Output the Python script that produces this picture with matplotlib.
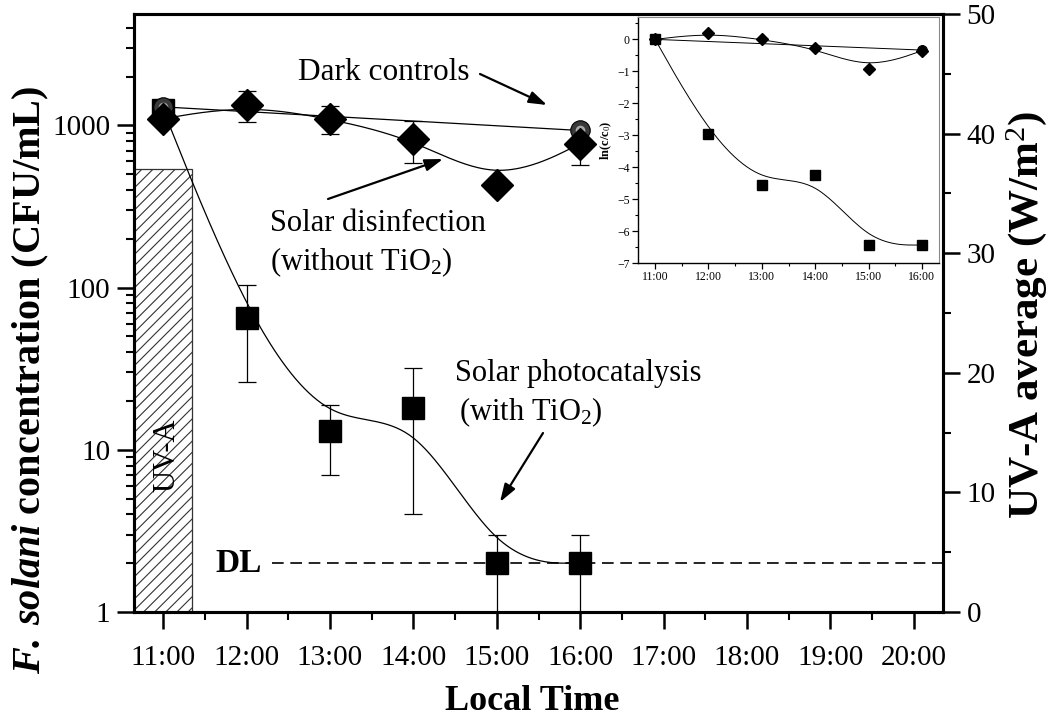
import numpy as np
import matplotlib
matplotlib.use('Agg')
import matplotlib.pyplot as plt
from matplotlib.ticker import FixedLocator, MultipleLocator, LogLocator, NullFormatter, FuncFormatter

plt.rcParams.update({
    'font.family': 'Liberation Serif',
    'mathtext.fontset': 'custom',
    'mathtext.rm': 'Liberation Serif',
    'mathtext.it': 'Liberation Serif:italic',
    'mathtext.bf': 'Liberation Serif:bold',
    'mathtext.bfit': 'Liberation Serif:bold:italic',
    'hatch.linewidth': 0.8,
})

# --- data ---
hours = [11, 12, 13, 14, 15, 16]
photocat = [1250, 65, 13, 18, 2, 2]            # with TiO2 (CFU/mL)
photocat_err = [np.nan, 39, 6, 14, 1, 1]
sodis = [1100, 1340, 1100, 830, 430, 770]      # without TiO2
sodis_err = [np.nan, 290, 220, 240, np.nan, 200]
dark_hours = [11, 16]
dark = [1300, 930]                             # dark controls
uva_hours = [11]
uva = [37]                                     # UV-A average (W/m2)
detection_limit = 2
hour_ticks = list(range(11, 21))
inset_ticks = list(range(11, 17))

W, H = 1050, 722


def px(x, y):
    """pixel position (top-left origin) -> figure fraction"""
    return (x / W, 1 - y / H)


def bspline(xs, ys, n=40):
    """uniform cubic B-spline with the data as control points, ends clamped"""
    xs, ys = np.asarray(xs, float), np.asarray(ys, float)
    cx = np.r_[xs[0], xs[0], xs, xs[-1], xs[-1]]
    cy = np.r_[ys[0], ys[0], ys, ys[-1], ys[-1]]
    t = np.linspace(0, 1, n)[:, None]
    B = np.hstack([(1 - t)**3, 3*t**3 - 6*t**2 + 4,
                   -3*t**3 + 3*t**2 + 3*t + 1, t**3]) / 6
    outx = np.concatenate([B @ cx[i:i+4] for i in range(len(cx) - 3)])
    outy = np.concatenate([B @ cy[i:i+4] for i in range(len(cy) - 3)])
    return outx, outy


def draw_sphere(a, x, y, ms, z=5):
    a.plot(x, y, 'o', ms=ms, mfc='#3a3a3a', mec='k', mew=0.8, zorder=z)
    a.plot(x, y, 'o', ms=ms*0.5, mfc='#a8a8a8', mec='none', zorder=z)
    a.plot(x, y, 'o', ms=ms*0.22, mfc='#f2f2f2', mec='none', zorder=z)


fig = plt.figure(figsize=(10.5, 7.22), dpi=100)
ax = fig.add_axes([134/W, 1 - 612/H, (943-134)/W, (612-14)/H])
ax2 = ax.twinx()
ax.set_zorder(ax2.get_zorder() + 1)
ax.patch.set_visible(False)

# UV-A bar on right axis
ax2.bar(uva_hours, uva, width=0.7, facecolor='white', edgecolor='#333333',
        hatch='///', linewidth=0.9, zorder=1)
ax2.set_ylim(0, 50)
ax2.yaxis.set_major_locator(MultipleLocator(10))
ax2.yaxis.set_minor_locator(MultipleLocator(5))

# curves
lx, ly = bspline(hours, np.log10(photocat))
ax.plot(lx, 10**ly, color='k', lw=0.9, zorder=2)
lx, ly = bspline(hours, np.log10(sodis))
ax.plot(lx, 10**ly, color='k', lw=0.9, zorder=2)
ax.plot(dark_hours, dark, color='k', lw=0.9, zorder=2)
ax.axhline(detection_limit, xmin=0.1706, xmax=1, color='k', lw=1.2,
           dashes=(7, 4), zorder=2)

ax.errorbar(hours, photocat, yerr=photocat_err, fmt='none', ecolor='k',
            elinewidth=0.9, capsize=6.5, capthick=0.9, zorder=3)
ax.errorbar(hours, sodis, yerr=sodis_err, fmt='none', ecolor='k',
            elinewidth=0.9, capsize=6.5, capthick=0.9, zorder=3)
ax.plot(hours, photocat, 's', ms=16.5, mfc='k', mec='k', zorder=4)
draw_sphere(ax, dark_hours, dark, 14)
ax.plot(hours, sodis, 'D', ms=16.5, mfc='k', mec='k', zorder=6)

ax.set_yscale('log')
ax.set_ylim(1, 4860)
ax.set_xlim(10.65, 20.35)
ax.yaxis.set_major_locator(FixedLocator([1, 10, 100, 1000]))
ax.yaxis.set_major_formatter(FuncFormatter(lambda v, p: f'{v:g}'))
ax.yaxis.set_minor_locator(LogLocator(base=10, subs=range(2, 10)))
ax.yaxis.set_minor_formatter(NullFormatter())
ax.xaxis.set_major_locator(FixedLocator(hour_ticks))
ax.xaxis.set_major_formatter(FuncFormatter(lambda v, p: f'{int(round(v))}:00'))
ax.xaxis.set_minor_locator(MultipleLocator(0.5))

for a in (ax, ax2):
    for s in a.spines.values():
        s.set_linewidth(2.2)
    a.tick_params(which='major', direction='out', length=12, width=1.8,
                  labelsize=21)
    a.tick_params(which='minor', direction='out', length=6, width=1.5)
ax.tick_params(top=False, right=False, which='both')
ax.tick_params(axis='y', pad=5)
ax.tick_params(axis='x', pad=12)
ax2.tick_params(axis='y', pad=5)

# labels
fig.text(*px(532, 702), 'Local Time', ha='center', va='center',
         fontsize=26, fontweight='bold')
fig.text(*px(31, 380), r'$\mathbfit{F.\:solani}$ concentration (CFU/mL)',
         ha='center', va='center', rotation=90, fontsize=29, fontweight='bold')
fig.text(*px(1027, 315), r'UV-A average (W/m$^2$)', ha='center', va='center',
         rotation=90, fontsize=31, fontweight='bold')

# annotations
fig.text(*px(298, 72), 'Dark controls', ha='left', va='center', fontsize=22.5)
fig.text(*px(270, 231), 'Solar disinfection', ha='left', va='baseline', fontsize=22)
fig.text(*px(270, 270), r'(without TiO$_2$)', ha='left', va='baseline', fontsize=22)
fig.text(*px(455, 381), 'Solar photocatalysis', ha='left', va='baseline', fontsize=22)
fig.text(*px(459, 420), r'(with TiO$_2$)', ha='left', va='baseline', fontsize=22)
fig.text(*px(262, 563), 'DL', ha='right', va='center', fontsize=24, fontweight='bold')
fig.text(*px(167, 455), 'UV-A', ha='center', va='center', rotation=90, fontsize=22)

arrow = dict(arrowstyle='-|>,head_length=0.9,head_width=0.3', lw=1.6,
             color='k', shrinkA=0, shrinkB=0, mutation_scale=12)
for tail, head in [((480, 74), (547, 105)), ((328, 199), (443, 159)),
                   ((543, 433), (500, 502))]:
    ax.annotate('', xy=px(*head), xytext=px(*tail), xycoords='figure fraction',
                textcoords='figure fraction', arrowprops=arrow)

# inset: ln(c/c0)
ins = fig.add_axes([638/W, 1 - 263/H, (939-638)/W, (263-17)/H])
ln_photo = np.log(np.array(photocat) / photocat[0])
ln_sodis = np.log(np.array(sodis) / sodis[0])
ln_dark = np.log(np.array(dark) / dark[0])
lx, ly = bspline(hours, ln_photo)
ins.plot(lx, ly, color='k', lw=0.7)
lx, ly = bspline(hours, ln_sodis)
ins.plot(lx, ly, color='k', lw=0.7)
ins.plot(dark_hours, ln_dark, color='k', lw=0.7)
ins.plot(hours, ln_photo, 's', ms=6.5, mfc='k', mec='k', zorder=4)
draw_sphere(ins, dark_hours, ln_dark, 7)
ins.plot(hours, ln_sodis, 'D', ms=6.5, mfc='k', mec='k', zorder=6)

ins.set_xlim(10.68, 16.32)
ins.set_ylim(-7, 0.7)
ins.xaxis.set_major_locator(FixedLocator(inset_ticks))
ins.xaxis.set_major_formatter(FuncFormatter(lambda v, p: f'{int(round(v))}:00'))
ins.xaxis.set_minor_locator(MultipleLocator(0.5))
ins.yaxis.set_major_locator(MultipleLocator(1))
ins.yaxis.set_minor_locator(MultipleLocator(0.5))
ins.tick_params(which='major', direction='out', length=4, width=0.9,
                labelsize=8.5, pad=2)
ins.tick_params(which='minor', direction='out', length=2.5, width=0.8)
ins.tick_params(top=False, right=False, which='both')
for side in ('top', 'right'):
    ins.spines[side].set_color('#8a8a8a')
    ins.spines[side].set_linewidth(0.8)
for side in ('left', 'bottom'):
    ins.spines[side].set_linewidth(1.0)
ins.set_ylabel(r'ln(c/c$_0$)', fontsize=9, fontweight='bold', labelpad=2)

fig.savefig('out.png', dpi=100)
